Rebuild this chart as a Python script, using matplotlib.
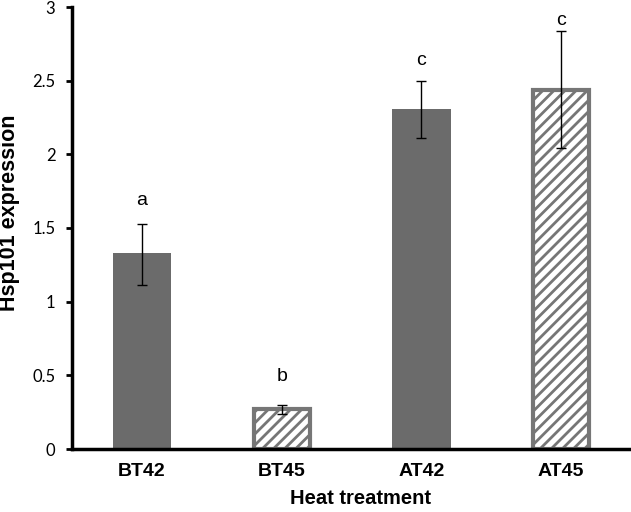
import matplotlib
matplotlib.use("Agg")
import matplotlib.pyplot as plt

categories = ["BT42", "BT45", "AT42", "AT45"]
values = [1.33, 0.27, 2.31, 2.44]
err_low = [1.11, 0.24, 2.11, 2.04]
err_high = [1.53, 0.30, 2.50, 2.84]
letters = ["a", "b", "c", "c"]
letter_y = [1.69, 0.49, 2.64, 2.91]
hatched = [False, True, False, True]
yticks = [0, 0.5, 1, 1.5, 2, 2.5, 3]
ytick_labels = ["0", "0.5", "1", "1.5", "2", "2.5", "3"]

plt.rcParams['hatch.linewidth'] = 2.0
plt.rcParams['hatch.color'] = '#767676'

fig = plt.figure(figsize=(6.31, 5.12), dpi=100)
ax = fig.add_axes([72/631, 1 - 449/512, 1 - 72/631, (449 - 7)/512])

x = list(range(len(categories)))
for i in x:
    if hatched[i]:
        ax.bar(i, values[i], width=0.40, color='white', edgecolor='#767676',
               linewidth=3, hatch='///', zorder=2)
    else:
        ax.bar(i, values[i], width=0.42, color='#6b6b6b', edgecolor='none', zorder=2)
    ax.errorbar(i, values[i],
                yerr=[[values[i] - err_low[i]], [err_high[i] - values[i]]],
                fmt='none', ecolor='black', elinewidth=1, capsize=3.5,
                capthick=1, zorder=3)
    ax.text(i, letter_y[i], letters[i], ha='center', va='center',
            fontsize=14, family='Liberation Sans')

ax.set_xlim(-0.5, 3.5)
ax.set_ylim(0, 3)
ax.set_yticks(yticks)
ax.set_yticklabels(ytick_labels, fontsize=12, family='Lato')
ax.set_xticks(x)
ax.set_xticklabels(categories, fontsize=14, fontweight='bold', family='Liberation Sans')
ax.tick_params(axis='x', length=0, pad=10)
ax.tick_params(axis='y', length=4, width=2, direction='out', pad=8)

for s in ['top', 'right']:
    ax.spines[s].set_visible(False)
ax.spines['left'].set_linewidth(2.5)
ax.spines['bottom'].set_linewidth(2.5)

ax.set_xlabel("Heat treatment", fontsize=14.5, fontweight='bold', family='Liberation Sans')
ax.set_ylabel("Hsp101 expression", fontsize=15.5, fontweight='bold', family='Liberation Sans')
ax.xaxis.set_label_coords((360 - 72) / 559, (449 - 498) / 442)
ax.yaxis.set_label_coords((10 - 72) / 559, (449 - 213) / 442)
ax.xaxis.label.set_va('center')
ax.yaxis.label.set_va('center')

fig.savefig("out.png", dpi=100)
